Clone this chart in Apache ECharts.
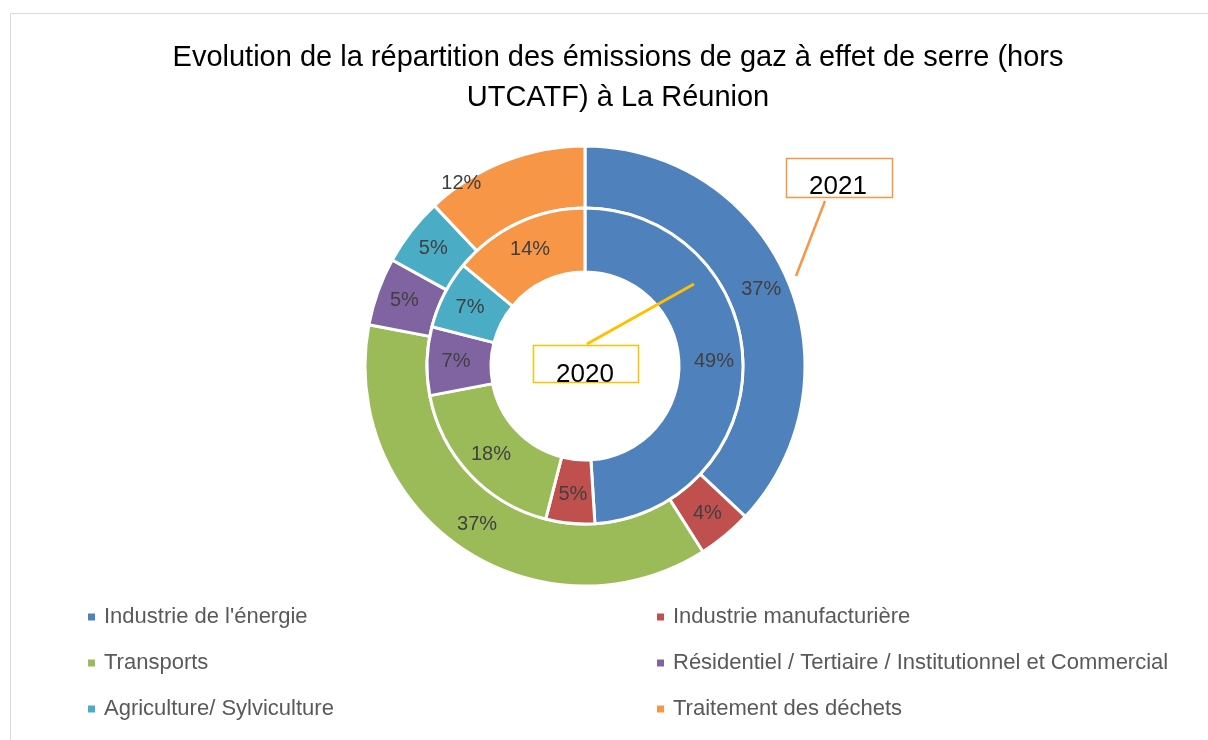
<!DOCTYPE html>
<html style="height: 100%; width: 100%">
<head>
  <meta charset="utf-8" />
</head>
<body style="height: 100%; width: 100%; margin: 0; background: #fff;">
  <div id="chart-panel" style="height: 740px; width: 1208px;"></div>
  <script type="text/javascript" src="https://cdn.jsdelivr.net/npm/echarts@6/dist/echarts.min.js"></script>
  <script type="text/javascript">
    var categories = [
      "Industrie de l'énergie",
      "Industrie manufacturière",
      "Transports",
      "Résidentiel / Tertiaire / Institutionnel et Commercial",
      "Agriculture/ Sylviculture",
      "Traitement des déchets"
    ];
    var values2020 = [49, 5, 18, 7, 7, 14];
    var values2021 = [37, 4, 37, 5, 5, 12];
    var colors = ["#4F81BD", "#C0504D", "#9BBB59", "#8064A2", "#4BACC6", "#F79646"];

    var fontFamily = "'Liberation Sans', Arial, sans-serif";
    var myChart = echarts.init(document.getElementById("chart-panel"));

    function toData(values, offsets) {
      return values.map(function (v, i) {
        var item = { name: categories[i], value: v };
        if (offsets && offsets[i]) {
          item.label = { offset: offsets[i] };
        }
        return item;
      });
    }

    var labelStyle = {
      show: true,
      position: "inside",
      formatter: "{c}%",
      color: "#404040",
      fontSize: 20,
      fontFamily: fontFamily
    };

    var legendCommon = {
      orient: "vertical",
      top: 605,
      padding: 0,
      icon: "rect",
      itemWidth: 9,
      itemHeight: 9,
      itemGap: 22,
      textStyle: { color: "#595959", fontSize: 22, fontFamily: fontFamily, lineHeight: 24, padding: [0, 0, 0, 3] }
    };

    var option = {
      animation: false,
      color: colors,
      title: {
        text: "Evolution de la répartition des émissions de gaz à effet de serre (hors\nUTCATF) à La Réunion",
        left: 613,
        textAlign: "center",
        top: 33,
        textStyle: {
          color: "#000",
          fontWeight: "normal",
          fontSize: 29,
          lineHeight: 40,
          fontFamily: fontFamily
        }
      },
      legend: [
        Object.assign({}, legendCommon, {
          left: 86,
          data: [categories[0], categories[2], categories[4]]
        }),
        Object.assign({}, legendCommon, {
          left: 655,
          data: [categories[1], categories[3], categories[5]]
        })
      ],
      graphic: [
        {
          type: "rect",
          z: 100,
          shape: { x: 10.5, y: 13.5, width: 1300, height: 800 },
          style: { fill: "none", stroke: "#D9D9D9", lineWidth: 1 },
          silent: true
        },
        {
          type: "line",
          z: 100,
          shape: { x1: 825, y1: 201, x2: 796, y2: 276 },
          style: { stroke: "#F79646", lineWidth: 2.5 }
        },
        {
          type: "rect",
          z: 100,
          shape: { x: 786.5, y: 158.5, width: 106, height: 39 },
          style: { fill: "#fff", stroke: "#F79646", lineWidth: 1.5 }
        },
        {
          type: "text",
          z: 101,
          x: 838, y: 200,
          style: { text: "2021", fill: "#000", fontSize: 26, fontFamily: fontFamily, align: "center", verticalAlign: "bottom" }
        },
        {
          type: "line",
          z: 100,
          shape: { x1: 587, y1: 344, x2: 694, y2: 284 },
          style: { stroke: "#FFC000", lineWidth: 3 }
        },
        {
          type: "rect",
          z: 100,
          shape: { x: 533.5, y: 345.5, width: 105, height: 37 },
          style: { fill: "#fff", stroke: "#FFC000", lineWidth: 1.5 }
        },
        {
          type: "text",
          z: 101,
          x: 585, y: 388,
          style: { text: "2020", fill: "#000", fontSize: 26, fontFamily: fontFamily, align: "center", verticalAlign: "bottom" }
        }
      ],
      series: [
        {
          name: "2020",
          type: "pie",
          center: [585, 366],
          radius: [94, 158],
          startAngle: 90,
          clockwise: true,
          silent: true,
          z: 2,
          itemStyle: { borderColor: "#fff", borderWidth: 3 },
          label: labelStyle,
          labelLine: { show: false },
          data: toData(values2020)
        },
        {
          name: "2021",
          type: "pie",
          center: [585, 366],
          radius: [158, 220],
          startAngle: 90,
          clockwise: true,
          silent: true,
          z: 1,
          itemStyle: { borderColor: "#fff", borderWidth: 3 },
          label: labelStyle,
          labelLine: { show: false },
          data: toData(values2021, { 5: [-53, -4] })
        }
      ]
    };

    myChart.setOption(option);
  </script>
</body>
</html>
